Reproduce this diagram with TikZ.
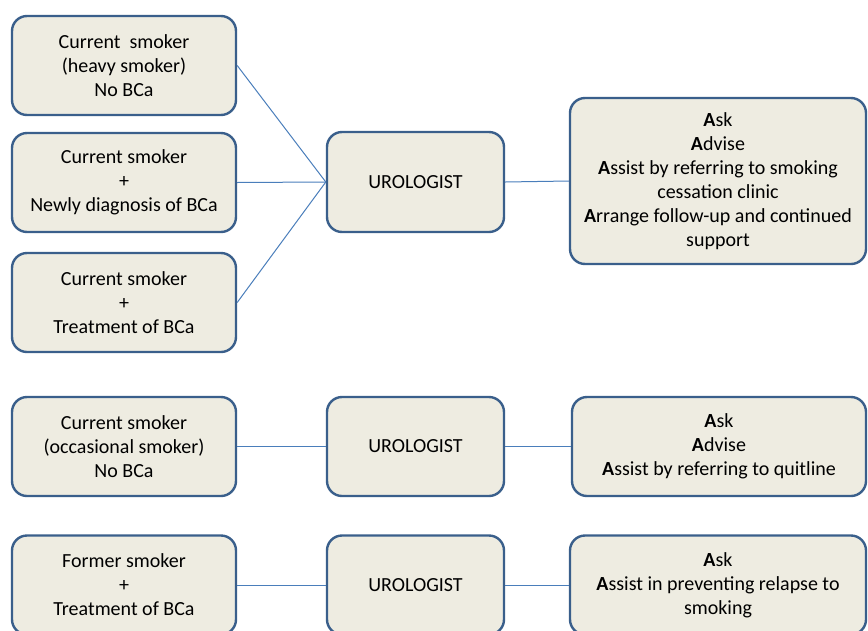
\documentclass[tikz,border=0pt]{standalone}
\usepackage{fontspec}
\setmainfont{Carlito}
\definecolor{boxfill}{HTML}{EEECE1}
\definecolor{boxborder}{HTML}{3A5F8B}
\definecolor{linkcol}{HTML}{4A7EBB}
\begin{document}
\begin{tikzpicture}[x=1pt,y=-1pt,
  box/.style={draw=boxborder,fill=boxfill,line width=2.4pt,rounded corners=15pt,
    align=center,inner sep=0pt,font=\fontsize{20}{24}\selectfont},
  link/.style={draw=linkcol,line width=1pt}]
\useasboundingbox (0,0) rectangle (868,630);
\clip (0,0) rectangle (868,630);
% left column
\node[box,minimum width=224pt,minimum height=99pt] (l1) at (124,65.5) {Current\ \ smoker\\(heavy smoker)\\No BCa};
\node[box,minimum width=224pt,minimum height=99pt] (l2) at (124,182.5) {Current smoker\\+\\Newly diagnosis of BCa};
\node[box,minimum width=224pt,minimum height=99pt] (l3) at (124,302.5) {Current smoker\\+\\Treatment of BCa};
\node[box,minimum width=224pt,minimum height=99pt] (l4) at (124,446.5) {Current smoker\\(occasional smoker)\\No BCa};
\node[box,minimum width=224pt,minimum height=99pt] (l5) at (124,585) {Former smoker\\+\\Treatment of BCa};
% urologists
\node[box,minimum width=177pt,minimum height=100pt] (u1) at (415.5,182) {UROLOGIST};
\node[box,minimum width=177pt,minimum height=99pt] (u2) at (415.5,446.5) {UROLOGIST};
\node[box,minimum width=177pt,minimum height=99pt] (u3) at (415.5,585) {UROLOGIST};
% right column
\node[box,minimum width=296pt,minimum height=166pt] (r1) at (718,181) {\textbf{A}sk\\\textbf{A}dvise\\\textbf{A}ssist by referring to smoking\\cessation clinic\\\textbf{A}rrange follow-up and continued\\support};
\node[box,minimum width=294pt,minimum height=99pt] (r2) at (719,446.5) {\textbf{A}sk\\\textbf{A}dvise\\\textbf{A}ssist by referring to quitline};
\node[box,minimum width=296pt,minimum height=99pt] (r3) at (718,585) {\textbf{A}sk\\\textbf{A}ssist in preventing relapse to\\smoking};
% connectors
\draw[link] (l1.east) -- (u1.west);
\draw[link] (l2.east) -- (u1.west);
\draw[link] (l3.east) -- (u1.west);
\draw[link] (u1.east) -- (r1.west);
\draw[link] (l4.east) -- (u2.west);
\draw[link] (u2.east) -- (r2.west);
\draw[link] (l5.east) -- (u3.west);
\draw[link] (u3.east) -- (r3.west);
\end{tikzpicture}
\end{document}
